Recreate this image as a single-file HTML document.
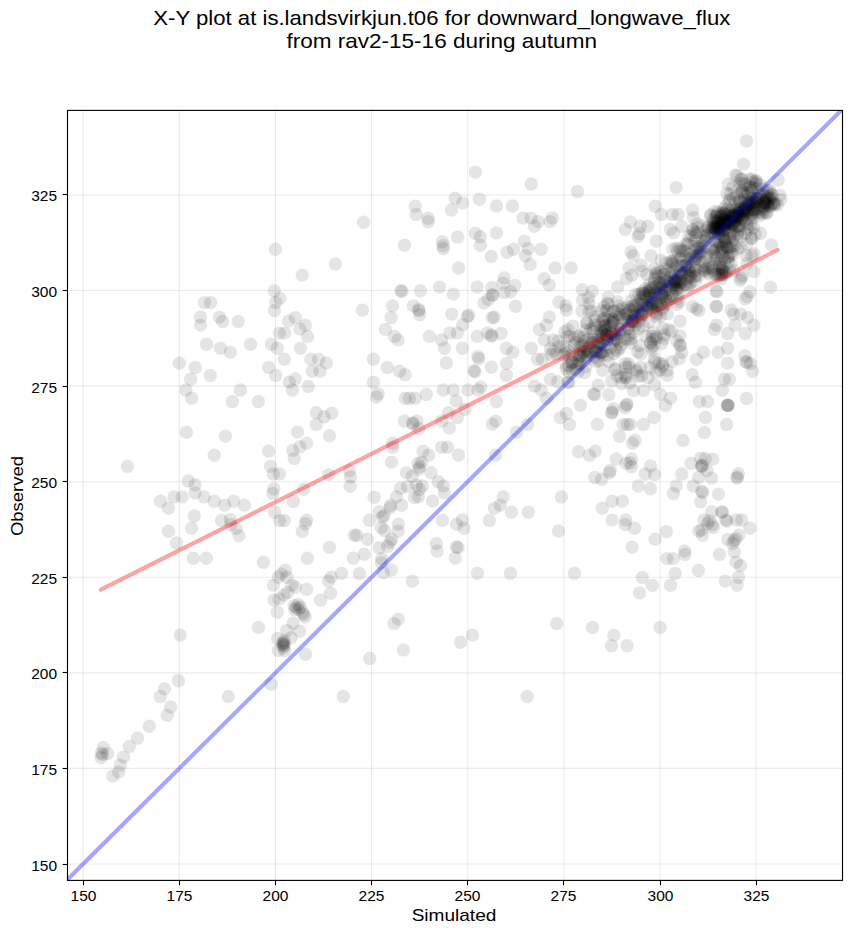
<!DOCTYPE html><html><head><meta charset="utf-8"><title>X-Y plot</title><style>html,body{margin:0;padding:0;background:#fff}svg{display:block}text{font-family:"Liberation Sans",sans-serif;fill:#000}</style></head><body>
<svg width="851" height="934" viewBox="0 0 851 934">
<rect width="851" height="934" fill="#fff"/>
<defs><clipPath id="c"><rect x="67.5" y="110.4" width="775.0" height="770.0"/></clipPath></defs>
<g stroke="#b0b0b0" stroke-opacity="0.25" stroke-width="1.11">
<line x1="83.10" y1="110.4" x2="83.10" y2="880.4"/>
<line x1="67.5" y1="864.00" x2="842.5" y2="864.00"/>
<line x1="179.25" y1="110.4" x2="179.25" y2="880.4"/>
<line x1="67.5" y1="768.42" x2="842.5" y2="768.42"/>
<line x1="275.40" y1="110.4" x2="275.40" y2="880.4"/>
<line x1="67.5" y1="672.85" x2="842.5" y2="672.85"/>
<line x1="371.55" y1="110.4" x2="371.55" y2="880.4"/>
<line x1="67.5" y1="577.27" x2="842.5" y2="577.27"/>
<line x1="467.70" y1="110.4" x2="467.70" y2="880.4"/>
<line x1="67.5" y1="481.70" x2="842.5" y2="481.70"/>
<line x1="563.85" y1="110.4" x2="563.85" y2="880.4"/>
<line x1="67.5" y1="386.12" x2="842.5" y2="386.12"/>
<line x1="660.00" y1="110.4" x2="660.00" y2="880.4"/>
<line x1="67.5" y1="290.55" x2="842.5" y2="290.55"/>
<line x1="756.15" y1="110.4" x2="756.15" y2="880.4"/>
<line x1="67.5" y1="194.98" x2="842.5" y2="194.98"/>
</g>
<g clip-path="url(#c)" fill="#000" fill-opacity="0.1">
<circle cx="204.5" cy="302.6" r="6.7"/>
<circle cx="210.6" cy="302.6" r="6.7"/>
<circle cx="200.5" cy="317.1" r="6.7"/>
<circle cx="200.5" cy="325.1" r="6.7"/>
<circle cx="219.3" cy="317.1" r="6.7"/>
<circle cx="222.5" cy="321.4" r="6.7"/>
<circle cx="238.3" cy="321.4" r="6.7"/>
<circle cx="206.6" cy="344.2" r="6.7"/>
<circle cx="220.4" cy="348.2" r="6.7"/>
<circle cx="230.3" cy="352.2" r="6.7"/>
<circle cx="250.5" cy="344.2" r="6.7"/>
<circle cx="179.3" cy="363.2" r="6.7"/>
<circle cx="195.3" cy="367.4" r="6.7"/>
<circle cx="190.6" cy="379.2" r="6.7"/>
<circle cx="210.3" cy="375.4" r="6.7"/>
<circle cx="185.9" cy="390.0" r="6.7"/>
<circle cx="191.5" cy="398.2" r="6.7"/>
<circle cx="240.4" cy="390.0" r="6.7"/>
<circle cx="232.4" cy="401.5" r="6.7"/>
<circle cx="258.3" cy="401.5" r="6.7"/>
<circle cx="186.4" cy="432.3" r="6.7"/>
<circle cx="225.4" cy="436.3" r="6.7"/>
<circle cx="214.3" cy="455.3" r="6.7"/>
<circle cx="127.4" cy="466.4" r="6.7"/>
<circle cx="274.3" cy="290.8" r="6.7"/>
<circle cx="279.9" cy="298.3" r="6.7"/>
<circle cx="275.7" cy="302.6" r="6.7"/>
<circle cx="274.5" cy="310.6" r="6.7"/>
<circle cx="288.6" cy="321.1" r="6.7"/>
<circle cx="279.4" cy="333.1" r="6.7"/>
<circle cx="284.6" cy="333.1" r="6.7"/>
<circle cx="271.4" cy="344.2" r="6.7"/>
<circle cx="277.3" cy="348.2" r="6.7"/>
<circle cx="284.4" cy="359.2" r="6.7"/>
<circle cx="268.6" cy="367.4" r="6.7"/>
<circle cx="275.7" cy="375.4" r="6.7"/>
<circle cx="289.3" cy="382.2" r="6.7"/>
<circle cx="268.6" cy="451.1" r="6.7"/>
<circle cx="270.5" cy="466.4" r="6.7"/>
<circle cx="273.3" cy="473.9" r="6.7"/>
<circle cx="279.4" cy="473.9" r="6.7"/>
<circle cx="275.4" cy="249.2" r="6.7"/>
<circle cx="188.2" cy="480.9" r="6.7"/>
<circle cx="195.1" cy="484.7" r="6.7"/>
<circle cx="195.1" cy="492.9" r="6.7"/>
<circle cx="160.5" cy="501.2" r="6.7"/>
<circle cx="174.1" cy="496.9" r="6.7"/>
<circle cx="182.1" cy="496.9" r="6.7"/>
<circle cx="168.5" cy="508.2" r="6.7"/>
<circle cx="204.2" cy="496.9" r="6.7"/>
<circle cx="214.3" cy="501.2" r="6.7"/>
<circle cx="224.7" cy="505.1" r="6.7"/>
<circle cx="233.6" cy="501.2" r="6.7"/>
<circle cx="244.4" cy="505.1" r="6.7"/>
<circle cx="194.3" cy="516.0" r="6.7"/>
<circle cx="191.5" cy="528.2" r="6.7"/>
<circle cx="168.5" cy="531.2" r="6.7"/>
<circle cx="176.5" cy="543.0" r="6.7"/>
<circle cx="221.6" cy="520.4" r="6.7"/>
<circle cx="230.3" cy="519.5" r="6.7"/>
<circle cx="231.0" cy="524.7" r="6.7"/>
<circle cx="236.2" cy="528.6" r="6.7"/>
<circle cx="239.0" cy="535.7" r="6.7"/>
<circle cx="193.4" cy="558.3" r="6.7"/>
<circle cx="206.3" cy="558.3" r="6.7"/>
<circle cx="263.4" cy="562.3" r="6.7"/>
<circle cx="180.2" cy="635.1" r="6.7"/>
<circle cx="258.5" cy="627.4" r="6.7"/>
<circle cx="273.7" cy="488.7" r="6.7"/>
<circle cx="272.7" cy="493.4" r="6.7"/>
<circle cx="303.7" cy="489.2" r="6.7"/>
<circle cx="293.4" cy="501.4" r="6.7"/>
<circle cx="274.7" cy="512.2" r="6.7"/>
<circle cx="279.5" cy="520.6" r="6.7"/>
<circle cx="284.4" cy="520.6" r="6.7"/>
<circle cx="306.5" cy="520.2" r="6.7"/>
<circle cx="305.4" cy="523.7" r="6.7"/>
<circle cx="302.3" cy="531.5" r="6.7"/>
<circle cx="350.2" cy="486.3" r="6.7"/>
<circle cx="374.2" cy="497.2" r="6.7"/>
<circle cx="369.4" cy="520.2" r="6.7"/>
<circle cx="354.2" cy="535.3" r="6.7"/>
<circle cx="356.7" cy="535.3" r="6.7"/>
<circle cx="367.5" cy="539.2" r="6.7"/>
<circle cx="329.5" cy="547.4" r="6.7"/>
<circle cx="307.4" cy="558.3" r="6.7"/>
<circle cx="353.3" cy="558.3" r="6.7"/>
<circle cx="364.3" cy="554.3" r="6.7"/>
<circle cx="379.2" cy="547.7" r="6.7"/>
<circle cx="285.4" cy="570.3" r="6.7"/>
<circle cx="281.2" cy="573.9" r="6.7"/>
<circle cx="278.3" cy="577.3" r="6.7"/>
<circle cx="286.8" cy="577.3" r="6.7"/>
<circle cx="273.4" cy="585.1" r="6.7"/>
<circle cx="291.7" cy="585.1" r="6.7"/>
<circle cx="295.3" cy="587.2" r="6.7"/>
<circle cx="306.5" cy="589.3" r="6.7"/>
<circle cx="330.5" cy="593.3" r="6.7"/>
<circle cx="331.2" cy="577.1" r="6.7"/>
<circle cx="328.4" cy="581.0" r="6.7"/>
<circle cx="341.5" cy="573.5" r="6.7"/>
<circle cx="359.4" cy="573.5" r="6.7"/>
<circle cx="274.1" cy="600.3" r="6.7"/>
<circle cx="279.0" cy="598.9" r="6.7"/>
<circle cx="284.0" cy="595.1" r="6.7"/>
<circle cx="287.5" cy="592.6" r="6.7"/>
<circle cx="320.6" cy="600.3" r="6.7"/>
<circle cx="277.3" cy="612.3" r="6.7"/>
<circle cx="293.1" cy="623.3" r="6.7"/>
<circle cx="286.8" cy="630.6" r="6.7"/>
<circle cx="299.5" cy="631.3" r="6.7"/>
<circle cx="277.6" cy="638.4" r="6.7"/>
<circle cx="291.0" cy="637.7" r="6.7"/>
<circle cx="278.3" cy="650.4" r="6.7"/>
<circle cx="284.7" cy="650.7" r="6.7"/>
<circle cx="305.4" cy="654.3" r="6.7"/>
<circle cx="369.7" cy="658.4" r="6.7"/>
<circle cx="271.3" cy="684.2" r="6.7"/>
<circle cx="178.4" cy="680.7" r="6.7"/>
<circle cx="164.5" cy="688.7" r="6.7"/>
<circle cx="160.3" cy="696.5" r="6.7"/>
<circle cx="170.6" cy="707.0" r="6.7"/>
<circle cx="167.3" cy="715.3" r="6.7"/>
<circle cx="149.2" cy="726.3" r="6.7"/>
<circle cx="137.5" cy="738.3" r="6.7"/>
<circle cx="129.2" cy="746.5" r="6.7"/>
<circle cx="123.4" cy="757.1" r="6.7"/>
<circle cx="120.3" cy="765.1" r="6.7"/>
<circle cx="118.7" cy="772.1" r="6.7"/>
<circle cx="113.0" cy="775.9" r="6.7"/>
<circle cx="228.4" cy="696.5" r="6.7"/>
<circle cx="343.3" cy="696.5" r="6.7"/>
<circle cx="592.4" cy="627.5" r="6.7"/>
<circle cx="613.9" cy="635.1" r="6.7"/>
<circle cx="611.4" cy="645.7" r="6.7"/>
<circle cx="627.1" cy="645.7" r="6.7"/>
<circle cx="660.1" cy="627.5" r="6.7"/>
<circle cx="527.2" cy="696.5" r="6.7"/>
<circle cx="442.5" cy="520.4" r="6.7"/>
<circle cx="456.4" cy="524.2" r="6.7"/>
<circle cx="462.3" cy="520.0" r="6.7"/>
<circle cx="464.1" cy="528.2" r="6.7"/>
<circle cx="436.4" cy="543.5" r="6.7"/>
<circle cx="437.1" cy="551.0" r="6.7"/>
<circle cx="456.4" cy="547.0" r="6.7"/>
<circle cx="458.0" cy="547.5" r="6.7"/>
<circle cx="455.2" cy="558.0" r="6.7"/>
<circle cx="477.5" cy="573.3" r="6.7"/>
<circle cx="510.4" cy="573.3" r="6.7"/>
<circle cx="574.4" cy="573.3" r="6.7"/>
<circle cx="412.4" cy="581.1" r="6.7"/>
<circle cx="489.3" cy="520.4" r="6.7"/>
<circle cx="494.5" cy="508.2" r="6.7"/>
<circle cx="500.3" cy="505.1" r="6.7"/>
<circle cx="503.1" cy="496.9" r="6.7"/>
<circle cx="511.4" cy="512.2" r="6.7"/>
<circle cx="528.3" cy="512.2" r="6.7"/>
<circle cx="561.4" cy="496.9" r="6.7"/>
<circle cx="558.6" cy="531.0" r="6.7"/>
<circle cx="556.7" cy="623.4" r="6.7"/>
<circle cx="472.4" cy="635.1" r="6.7"/>
<circle cx="460.6" cy="642.2" r="6.7"/>
<circle cx="398.3" cy="619.1" r="6.7"/>
<circle cx="394.1" cy="623.4" r="6.7"/>
<circle cx="403.5" cy="649.9" r="6.7"/>
<circle cx="391.3" cy="570.0" r="6.7"/>
<circle cx="383.5" cy="572.8" r="6.7"/>
<circle cx="400.6" cy="488.2" r="6.7"/>
<circle cx="407.4" cy="486.5" r="6.7"/>
<circle cx="416.4" cy="485.3" r="6.7"/>
<circle cx="422.3" cy="485.9" r="6.7"/>
<circle cx="419.4" cy="489.4" r="6.7"/>
<circle cx="438.2" cy="481.8" r="6.7"/>
<circle cx="443.4" cy="485.9" r="6.7"/>
<circle cx="444.3" cy="492.9" r="6.7"/>
<circle cx="396.4" cy="496.8" r="6.7"/>
<circle cx="414.4" cy="497.6" r="6.7"/>
<circle cx="418.4" cy="496.8" r="6.7"/>
<circle cx="432.5" cy="501.1" r="6.7"/>
<circle cx="390.6" cy="505.3" r="6.7"/>
<circle cx="390.0" cy="507.8" r="6.7"/>
<circle cx="401.5" cy="505.3" r="6.7"/>
<circle cx="379.4" cy="511.7" r="6.7"/>
<circle cx="384.1" cy="515.6" r="6.7"/>
<circle cx="382.3" cy="517.2" r="6.7"/>
<circle cx="398.4" cy="524.1" r="6.7"/>
<circle cx="398.2" cy="531.1" r="6.7"/>
<circle cx="381.2" cy="527.6" r="6.7"/>
<circle cx="384.7" cy="530.5" r="6.7"/>
<circle cx="391.7" cy="539.3" r="6.7"/>
<circle cx="390.0" cy="542.3" r="6.7"/>
<circle cx="387.6" cy="546.4" r="6.7"/>
<circle cx="381.8" cy="558.7" r="6.7"/>
<circle cx="381.2" cy="562.8" r="6.7"/>
<circle cx="400.9" cy="290.8" r="6.7"/>
<circle cx="402.1" cy="291.3" r="6.7"/>
<circle cx="420.4" cy="290.8" r="6.7"/>
<circle cx="439.5" cy="287.1" r="6.7"/>
<circle cx="453.3" cy="294.1" r="6.7"/>
<circle cx="477.3" cy="287.1" r="6.7"/>
<circle cx="362.4" cy="310.1" r="6.7"/>
<circle cx="392.5" cy="305.9" r="6.7"/>
<circle cx="391.1" cy="317.6" r="6.7"/>
<circle cx="413.4" cy="305.9" r="6.7"/>
<circle cx="418.6" cy="309.4" r="6.7"/>
<circle cx="419.0" cy="310.6" r="6.7"/>
<circle cx="419.7" cy="314.8" r="6.7"/>
<circle cx="451.7" cy="314.1" r="6.7"/>
<circle cx="467.4" cy="316.4" r="6.7"/>
<circle cx="468.6" cy="315.3" r="6.7"/>
<circle cx="462.7" cy="324.7" r="6.7"/>
<circle cx="385.4" cy="329.4" r="6.7"/>
<circle cx="394.6" cy="336.4" r="6.7"/>
<circle cx="398.1" cy="339.9" r="6.7"/>
<circle cx="429.4" cy="336.4" r="6.7"/>
<circle cx="441.6" cy="339.9" r="6.7"/>
<circle cx="449.8" cy="332.9" r="6.7"/>
<circle cx="457.3" cy="332.9" r="6.7"/>
<circle cx="444.4" cy="348.2" r="6.7"/>
<circle cx="462.3" cy="348.2" r="6.7"/>
<circle cx="477.3" cy="336.4" r="6.7"/>
<circle cx="478.0" cy="356.4" r="6.7"/>
<circle cx="478.7" cy="358.7" r="6.7"/>
<circle cx="474.0" cy="370.7" r="6.7"/>
<circle cx="475.0" cy="371.7" r="6.7"/>
<circle cx="446.3" cy="363.0" r="6.7"/>
<circle cx="373.4" cy="359.2" r="6.7"/>
<circle cx="387.3" cy="367.4" r="6.7"/>
<circle cx="399.5" cy="371.2" r="6.7"/>
<circle cx="405.2" cy="374.7" r="6.7"/>
<circle cx="373.4" cy="382.2" r="6.7"/>
<circle cx="378.1" cy="394.0" r="6.7"/>
<circle cx="376.5" cy="397.0" r="6.7"/>
<circle cx="405.2" cy="398.2" r="6.7"/>
<circle cx="409.4" cy="398.2" r="6.7"/>
<circle cx="415.3" cy="398.2" r="6.7"/>
<circle cx="426.3" cy="394.5" r="6.7"/>
<circle cx="443.2" cy="390.0" r="6.7"/>
<circle cx="453.3" cy="390.0" r="6.7"/>
<circle cx="456.4" cy="401.0" r="6.7"/>
<circle cx="467.9" cy="390.0" r="6.7"/>
<circle cx="478.0" cy="390.0" r="6.7"/>
<circle cx="480.8" cy="386.9" r="6.7"/>
<circle cx="465.1" cy="409.3" r="6.7"/>
<circle cx="448.6" cy="412.8" r="6.7"/>
<circle cx="457.3" cy="417.5" r="6.7"/>
<circle cx="441.6" cy="421.0" r="6.7"/>
<circle cx="449.3" cy="428.1" r="6.7"/>
<circle cx="404.5" cy="421.0" r="6.7"/>
<circle cx="412.7" cy="423.8" r="6.7"/>
<circle cx="413.1" cy="422.9" r="6.7"/>
<circle cx="416.9" cy="421.0" r="6.7"/>
<circle cx="418.8" cy="428.5" r="6.7"/>
<circle cx="392.7" cy="443.3" r="6.7"/>
<circle cx="392.7" cy="447.3" r="6.7"/>
<circle cx="391.5" cy="462.1" r="6.7"/>
<circle cx="423.0" cy="451.1" r="6.7"/>
<circle cx="428.7" cy="455.1" r="6.7"/>
<circle cx="441.6" cy="447.3" r="6.7"/>
<circle cx="447.5" cy="447.3" r="6.7"/>
<circle cx="458.5" cy="455.1" r="6.7"/>
<circle cx="418.1" cy="463.3" r="6.7"/>
<circle cx="419.7" cy="466.8" r="6.7"/>
<circle cx="418.8" cy="469.2" r="6.7"/>
<circle cx="421.6" cy="462.1" r="6.7"/>
<circle cx="406.3" cy="472.7" r="6.7"/>
<circle cx="431.0" cy="472.7" r="6.7"/>
<circle cx="412.2" cy="476.2" r="6.7"/>
<circle cx="295.2" cy="317.6" r="6.7"/>
<circle cx="305.3" cy="325.1" r="6.7"/>
<circle cx="299.9" cy="328.9" r="6.7"/>
<circle cx="307.6" cy="336.4" r="6.7"/>
<circle cx="300.6" cy="348.2" r="6.7"/>
<circle cx="310.7" cy="359.2" r="6.7"/>
<circle cx="318.7" cy="359.2" r="6.7"/>
<circle cx="326.4" cy="363.0" r="6.7"/>
<circle cx="312.3" cy="371.2" r="6.7"/>
<circle cx="320.1" cy="371.2" r="6.7"/>
<circle cx="295.2" cy="378.7" r="6.7"/>
<circle cx="308.3" cy="386.5" r="6.7"/>
<circle cx="292.4" cy="390.0" r="6.7"/>
<circle cx="316.3" cy="412.8" r="6.7"/>
<circle cx="324.1" cy="416.8" r="6.7"/>
<circle cx="331.8" cy="413.3" r="6.7"/>
<circle cx="316.3" cy="424.5" r="6.7"/>
<circle cx="297.5" cy="432.1" r="6.7"/>
<circle cx="329.5" cy="435.8" r="6.7"/>
<circle cx="306.5" cy="443.3" r="6.7"/>
<circle cx="299.9" cy="446.9" r="6.7"/>
<circle cx="292.8" cy="450.4" r="6.7"/>
<circle cx="294.2" cy="458.6" r="6.7"/>
<circle cx="328.8" cy="474.6" r="6.7"/>
<circle cx="349.5" cy="470.8" r="6.7"/>
<circle cx="350.6" cy="476.9" r="6.7"/>
<circle cx="492.3" cy="294.7" r="6.7"/>
<circle cx="492.7" cy="295.3" r="6.7"/>
<circle cx="488.2" cy="299.4" r="6.7"/>
<circle cx="484.1" cy="302.9" r="6.7"/>
<circle cx="504.1" cy="292.4" r="6.7"/>
<circle cx="510.8" cy="291.8" r="6.7"/>
<circle cx="515.5" cy="306.2" r="6.7"/>
<circle cx="494.1" cy="317.3" r="6.7"/>
<circle cx="492.3" cy="317.6" r="6.7"/>
<circle cx="549.3" cy="317.0" r="6.7"/>
<circle cx="559.0" cy="302.3" r="6.7"/>
<circle cx="565.8" cy="305.9" r="6.7"/>
<circle cx="566.4" cy="310.0" r="6.7"/>
<circle cx="539.3" cy="329.4" r="6.7"/>
<circle cx="546.4" cy="325.3" r="6.7"/>
<circle cx="500.9" cy="333.2" r="6.7"/>
<circle cx="487.6" cy="332.9" r="6.7"/>
<circle cx="491.2" cy="335.2" r="6.7"/>
<circle cx="491.8" cy="336.1" r="6.7"/>
<circle cx="544.4" cy="339.9" r="6.7"/>
<circle cx="553.4" cy="339.9" r="6.7"/>
<circle cx="558.1" cy="341.1" r="6.7"/>
<circle cx="531.4" cy="348.2" r="6.7"/>
<circle cx="506.4" cy="348.2" r="6.7"/>
<circle cx="512.7" cy="352.3" r="6.7"/>
<circle cx="550.5" cy="348.8" r="6.7"/>
<circle cx="553.4" cy="351.1" r="6.7"/>
<circle cx="551.1" cy="354.6" r="6.7"/>
<circle cx="556.4" cy="354.0" r="6.7"/>
<circle cx="537.6" cy="359.3" r="6.7"/>
<circle cx="542.3" cy="359.3" r="6.7"/>
<circle cx="506.4" cy="363.4" r="6.7"/>
<circle cx="491.4" cy="367.3" r="6.7"/>
<circle cx="506.4" cy="375.2" r="6.7"/>
<circle cx="550.5" cy="379.3" r="6.7"/>
<circle cx="557.6" cy="381.7" r="6.7"/>
<circle cx="496.5" cy="401.4" r="6.7"/>
<circle cx="495.9" cy="421.1" r="6.7"/>
<circle cx="492.3" cy="424.1" r="6.7"/>
<circle cx="495.5" cy="455.2" r="6.7"/>
<circle cx="516.4" cy="432.3" r="6.7"/>
<circle cx="527.6" cy="424.4" r="6.7"/>
<circle cx="534.6" cy="385.9" r="6.7"/>
<circle cx="541.1" cy="390.0" r="6.7"/>
<circle cx="546.4" cy="398.2" r="6.7"/>
<circle cx="560.5" cy="417.6" r="6.7"/>
<circle cx="566.4" cy="413.5" r="6.7"/>
<circle cx="569.5" cy="424.4" r="6.7"/>
<circle cx="578.5" cy="451.7" r="6.7"/>
<circle cx="568.1" cy="382.1" r="6.7"/>
<circle cx="568.7" cy="382.6" r="6.7"/>
<circle cx="598.2" cy="385.3" r="6.7"/>
<circle cx="593.5" cy="393.9" r="6.7"/>
<circle cx="594.7" cy="394.7" r="6.7"/>
<circle cx="608.8" cy="394.7" r="6.7"/>
<circle cx="580.4" cy="405.3" r="6.7"/>
<circle cx="611.7" cy="380.9" r="6.7"/>
<circle cx="621.7" cy="383.5" r="6.7"/>
<circle cx="629.9" cy="382.9" r="6.7"/>
<circle cx="633.5" cy="390.6" r="6.7"/>
<circle cx="643.5" cy="390.6" r="6.7"/>
<circle cx="654.3" cy="384.7" r="6.7"/>
<circle cx="660.5" cy="394.3" r="6.7"/>
<circle cx="670.5" cy="398.2" r="6.7"/>
<circle cx="665.5" cy="405.3" r="6.7"/>
<circle cx="613.3" cy="408.8" r="6.7"/>
<circle cx="612.0" cy="412.0" r="6.7"/>
<circle cx="611.7" cy="412.9" r="6.7"/>
<circle cx="627.0" cy="404.1" r="6.7"/>
<circle cx="625.0" cy="407.6" r="6.7"/>
<circle cx="626.4" cy="405.3" r="6.7"/>
<circle cx="653.8" cy="417.4" r="6.7"/>
<circle cx="597.4" cy="424.4" r="6.7"/>
<circle cx="623.2" cy="424.4" r="6.7"/>
<circle cx="627.2" cy="424.4" r="6.7"/>
<circle cx="630.3" cy="424.4" r="6.7"/>
<circle cx="643.5" cy="424.4" r="6.7"/>
<circle cx="619.4" cy="436.4" r="6.7"/>
<circle cx="634.9" cy="440.2" r="6.7"/>
<circle cx="632.5" cy="443.2" r="6.7"/>
<circle cx="595.3" cy="451.1" r="6.7"/>
<circle cx="589.4" cy="455.2" r="6.7"/>
<circle cx="616.2" cy="459.0" r="6.7"/>
<circle cx="631.7" cy="459.0" r="6.7"/>
<circle cx="626.1" cy="463.2" r="6.7"/>
<circle cx="631.5" cy="466.7" r="6.7"/>
<circle cx="629.9" cy="462.8" r="6.7"/>
<circle cx="650.5" cy="466.0" r="6.7"/>
<circle cx="610.3" cy="470.5" r="6.7"/>
<circle cx="609.4" cy="472.8" r="6.7"/>
<circle cx="645.2" cy="474.0" r="6.7"/>
<circle cx="654.6" cy="474.6" r="6.7"/>
<circle cx="594.7" cy="477.5" r="6.7"/>
<circle cx="601.7" cy="479.3" r="6.7"/>
<circle cx="475.4" cy="172.1" r="6.7"/>
<circle cx="479.4" cy="199.2" r="6.7"/>
<circle cx="455.2" cy="198.2" r="6.7"/>
<circle cx="462.7" cy="202.9" r="6.7"/>
<circle cx="451.5" cy="210.0" r="6.7"/>
<circle cx="415.3" cy="206.2" r="6.7"/>
<circle cx="416.2" cy="214.4" r="6.7"/>
<circle cx="428.2" cy="218.2" r="6.7"/>
<circle cx="428.2" cy="221.7" r="6.7"/>
<circle cx="363.6" cy="222.2" r="6.7"/>
<circle cx="404.5" cy="245.2" r="6.7"/>
<circle cx="457.6" cy="237.0" r="6.7"/>
<circle cx="442.3" cy="241.7" r="6.7"/>
<circle cx="443.2" cy="245.7" r="6.7"/>
<circle cx="443.2" cy="248.7" r="6.7"/>
<circle cx="475.2" cy="233.2" r="6.7"/>
<circle cx="480.4" cy="236.8" r="6.7"/>
<circle cx="480.4" cy="245.2" r="6.7"/>
<circle cx="458.5" cy="268.0" r="6.7"/>
<circle cx="335.4" cy="264.0" r="6.7"/>
<circle cx="302.2" cy="275.1" r="6.7"/>
<circle cx="531.2" cy="184.0" r="6.7"/>
<circle cx="577.5" cy="191.5" r="6.7"/>
<circle cx="496.5" cy="205.9" r="6.7"/>
<circle cx="512.4" cy="205.9" r="6.7"/>
<circle cx="523.0" cy="218.1" r="6.7"/>
<circle cx="531.2" cy="218.1" r="6.7"/>
<circle cx="538.3" cy="221.6" r="6.7"/>
<circle cx="534.5" cy="226.3" r="6.7"/>
<circle cx="552.4" cy="218.1" r="6.7"/>
<circle cx="550.0" cy="221.6" r="6.7"/>
<circle cx="496.5" cy="232.9" r="6.7"/>
<circle cx="524.2" cy="241.1" r="6.7"/>
<circle cx="528.2" cy="248.6" r="6.7"/>
<circle cx="513.6" cy="249.3" r="6.7"/>
<circle cx="507.0" cy="252.2" r="6.7"/>
<circle cx="541.1" cy="249.3" r="6.7"/>
<circle cx="525.4" cy="255.7" r="6.7"/>
<circle cx="491.3" cy="256.4" r="6.7"/>
<circle cx="530.1" cy="264.4" r="6.7"/>
<circle cx="555.2" cy="267.9" r="6.7"/>
<circle cx="571.2" cy="267.9" r="6.7"/>
<circle cx="544.2" cy="278.7" r="6.7"/>
<circle cx="549.3" cy="285.1" r="6.7"/>
<circle cx="504.2" cy="278.0" r="6.7"/>
<circle cx="503.0" cy="283.2" r="6.7"/>
<circle cx="514.8" cy="285.5" r="6.7"/>
<circle cx="491.8" cy="287.4" r="6.7"/>
<circle cx="676.2" cy="187.5" r="6.7"/>
<circle cx="582.2" cy="289.8" r="6.7"/>
<circle cx="655.2" cy="206.2" r="6.7"/>
<circle cx="661.3" cy="214.4" r="6.7"/>
<circle cx="672.3" cy="214.4" r="6.7"/>
<circle cx="678.1" cy="214.4" r="6.7"/>
<circle cx="692.6" cy="210.0" r="6.7"/>
<circle cx="693.4" cy="217.6" r="6.7"/>
<circle cx="630.3" cy="222.0" r="6.7"/>
<circle cx="625.3" cy="229.4" r="6.7"/>
<circle cx="640.3" cy="226.2" r="6.7"/>
<circle cx="647.6" cy="226.2" r="6.7"/>
<circle cx="639.1" cy="233.5" r="6.7"/>
<circle cx="638.2" cy="236.4" r="6.7"/>
<circle cx="670.3" cy="229.4" r="6.7"/>
<circle cx="673.4" cy="232.9" r="6.7"/>
<circle cx="681.7" cy="226.4" r="6.7"/>
<circle cx="656.4" cy="241.1" r="6.7"/>
<circle cx="631.1" cy="252.0" r="6.7"/>
<circle cx="633.3" cy="255.8" r="6.7"/>
<circle cx="651.1" cy="255.8" r="6.7"/>
<circle cx="661.1" cy="260.5" r="6.7"/>
<circle cx="672.9" cy="249.3" r="6.7"/>
<circle cx="677.6" cy="251.1" r="6.7"/>
<circle cx="629.1" cy="268.1" r="6.7"/>
<circle cx="631.7" cy="275.2" r="6.7"/>
<circle cx="626.4" cy="278.7" r="6.7"/>
<circle cx="641.1" cy="265.2" r="6.7"/>
<circle cx="641.7" cy="271.1" r="6.7"/>
<circle cx="647.0" cy="274.6" r="6.7"/>
<circle cx="654.1" cy="268.7" r="6.7"/>
<circle cx="617.6" cy="286.9" r="6.7"/>
<circle cx="649.4" cy="284.0" r="6.7"/>
<circle cx="715.8" cy="290.9" r="6.7"/>
<circle cx="717.0" cy="291.8" r="6.7"/>
<circle cx="747.2" cy="296.5" r="6.7"/>
<circle cx="745.2" cy="298.8" r="6.7"/>
<circle cx="749.9" cy="291.8" r="6.7"/>
<circle cx="716.2" cy="306.2" r="6.7"/>
<circle cx="716.7" cy="306.7" r="6.7"/>
<circle cx="696.5" cy="308.8" r="6.7"/>
<circle cx="698.8" cy="310.6" r="6.7"/>
<circle cx="692.3" cy="306.5" r="6.7"/>
<circle cx="731.1" cy="310.0" r="6.7"/>
<circle cx="733.5" cy="314.1" r="6.7"/>
<circle cx="740.5" cy="314.1" r="6.7"/>
<circle cx="747.6" cy="317.6" r="6.7"/>
<circle cx="753.8" cy="325.3" r="6.7"/>
<circle cx="735.2" cy="325.3" r="6.7"/>
<circle cx="716.4" cy="325.3" r="6.7"/>
<circle cx="714.3" cy="329.4" r="6.7"/>
<circle cx="727.6" cy="333.5" r="6.7"/>
<circle cx="745.2" cy="333.5" r="6.7"/>
<circle cx="680.0" cy="321.1" r="6.7"/>
<circle cx="680.0" cy="335.8" r="6.7"/>
<circle cx="680.0" cy="345.0" r="6.7"/>
<circle cx="680.4" cy="345.8" r="6.7"/>
<circle cx="681.8" cy="352.3" r="6.7"/>
<circle cx="703.5" cy="352.3" r="6.7"/>
<circle cx="696.5" cy="359.3" r="6.7"/>
<circle cx="718.2" cy="352.3" r="6.7"/>
<circle cx="727.6" cy="348.2" r="6.7"/>
<circle cx="727.6" cy="363.1" r="6.7"/>
<circle cx="744.9" cy="355.8" r="6.7"/>
<circle cx="745.8" cy="361.7" r="6.7"/>
<circle cx="747.0" cy="362.3" r="6.7"/>
<circle cx="750.5" cy="363.4" r="6.7"/>
<circle cx="752.5" cy="371.3" r="6.7"/>
<circle cx="692.3" cy="374.8" r="6.7"/>
<circle cx="695.3" cy="382.2" r="6.7"/>
<circle cx="724.4" cy="379.3" r="6.7"/>
<circle cx="729.4" cy="379.3" r="6.7"/>
<circle cx="722.3" cy="390.3" r="6.7"/>
<circle cx="699.4" cy="401.5" r="6.7"/>
<circle cx="707.6" cy="401.5" r="6.7"/>
<circle cx="727.6" cy="405.3" r="6.7"/>
<circle cx="727.7" cy="405.4" r="6.7"/>
<circle cx="727.5" cy="405.1" r="6.7"/>
<circle cx="728.4" cy="405.4" r="6.7"/>
<circle cx="746.6" cy="398.4" r="6.7"/>
<circle cx="705.5" cy="417.4" r="6.7"/>
<circle cx="726.7" cy="424.4" r="6.7"/>
<circle cx="704.4" cy="432.5" r="6.7"/>
<circle cx="682.9" cy="440.5" r="6.7"/>
<circle cx="700.6" cy="458.1" r="6.7"/>
<circle cx="705.3" cy="458.7" r="6.7"/>
<circle cx="712.7" cy="459.3" r="6.7"/>
<circle cx="691.2" cy="463.2" r="6.7"/>
<circle cx="701.5" cy="465.8" r="6.7"/>
<circle cx="702.0" cy="466.7" r="6.7"/>
<circle cx="702.3" cy="465.2" r="6.7"/>
<circle cx="707.0" cy="470.5" r="6.7"/>
<circle cx="738.4" cy="473.8" r="6.7"/>
<circle cx="737.3" cy="476.9" r="6.7"/>
<circle cx="737.0" cy="478.1" r="6.7"/>
<circle cx="681.8" cy="474.0" r="6.7"/>
<circle cx="698.8" cy="477.5" r="6.7"/>
<circle cx="711.5" cy="478.1" r="6.7"/>
<circle cx="638.3" cy="486.0" r="6.7"/>
<circle cx="650.5" cy="488.8" r="6.7"/>
<circle cx="676.4" cy="486.0" r="6.7"/>
<circle cx="673.3" cy="493.5" r="6.7"/>
<circle cx="693.3" cy="486.0" r="6.7"/>
<circle cx="612.2" cy="501.3" r="6.7"/>
<circle cx="622.3" cy="501.3" r="6.7"/>
<circle cx="602.3" cy="508.3" r="6.7"/>
<circle cx="612.2" cy="520.1" r="6.7"/>
<circle cx="625.8" cy="520.1" r="6.7"/>
<circle cx="625.1" cy="524.5" r="6.7"/>
<circle cx="634.5" cy="528.3" r="6.7"/>
<circle cx="632.2" cy="547.1" r="6.7"/>
<circle cx="655.2" cy="539.3" r="6.7"/>
<circle cx="666.3" cy="531.6" r="6.7"/>
<circle cx="667.0" cy="558.6" r="6.7"/>
<circle cx="673.3" cy="558.6" r="6.7"/>
<circle cx="675.2" cy="573.4" r="6.7"/>
<circle cx="670.5" cy="585.2" r="6.7"/>
<circle cx="642.3" cy="577.4" r="6.7"/>
<circle cx="652.4" cy="585.2" r="6.7"/>
<circle cx="639.5" cy="592.9" r="6.7"/>
<circle cx="701.7" cy="491.2" r="6.7"/>
<circle cx="702.6" cy="492.6" r="6.7"/>
<circle cx="700.6" cy="501.8" r="6.7"/>
<circle cx="718.5" cy="494.1" r="6.7"/>
<circle cx="711.7" cy="511.7" r="6.7"/>
<circle cx="721.7" cy="512.3" r="6.7"/>
<circle cx="722.3" cy="511.9" r="6.7"/>
<circle cx="704.1" cy="520.0" r="6.7"/>
<circle cx="709.4" cy="520.6" r="6.7"/>
<circle cx="707.6" cy="523.5" r="6.7"/>
<circle cx="712.3" cy="524.7" r="6.7"/>
<circle cx="713.5" cy="527.6" r="6.7"/>
<circle cx="725.8" cy="520.0" r="6.7"/>
<circle cx="727.0" cy="521.1" r="6.7"/>
<circle cx="736.4" cy="520.0" r="6.7"/>
<circle cx="741.7" cy="520.0" r="6.7"/>
<circle cx="749.9" cy="528.2" r="6.7"/>
<circle cx="698.8" cy="531.1" r="6.7"/>
<circle cx="702.6" cy="535.2" r="6.7"/>
<circle cx="701.7" cy="530.0" r="6.7"/>
<circle cx="738.8" cy="535.2" r="6.7"/>
<circle cx="727.9" cy="539.4" r="6.7"/>
<circle cx="735.8" cy="538.8" r="6.7"/>
<circle cx="732.6" cy="543.5" r="6.7"/>
<circle cx="734.1" cy="540.5" r="6.7"/>
<circle cx="734.3" cy="551.7" r="6.7"/>
<circle cx="719.4" cy="554.4" r="6.7"/>
<circle cx="684.7" cy="551.1" r="6.7"/>
<circle cx="684.9" cy="554.4" r="6.7"/>
<circle cx="736.2" cy="562.3" r="6.7"/>
<circle cx="740.5" cy="565.8" r="6.7"/>
<circle cx="698.4" cy="570.5" r="6.7"/>
<circle cx="738.5" cy="577.2" r="6.7"/>
<circle cx="725.2" cy="581.1" r="6.7"/>
<circle cx="737.0" cy="585.2" r="6.7"/>
<circle cx="296.1" cy="607.6" r="6.7"/>
<circle cx="298.2" cy="604.5" r="6.7"/>
<circle cx="294.8" cy="609.8" r="6.7"/>
<circle cx="298.6" cy="609.2" r="6.7"/>
<circle cx="294.2" cy="605.8" r="6.7"/>
<circle cx="300.3" cy="607.2" r="6.7"/>
<circle cx="304.0" cy="614.7" r="6.7"/>
<circle cx="305.2" cy="617.0" r="6.7"/>
<circle cx="302.5" cy="612.8" r="6.7"/>
<circle cx="283.4" cy="644.0" r="6.7"/>
<circle cx="284.2" cy="642.6" r="6.7"/>
<circle cx="282.6" cy="645.3" r="6.7"/>
<circle cx="284.3" cy="645.4" r="6.7"/>
<circle cx="282.5" cy="642.9" r="6.7"/>
<circle cx="283.6" cy="647.8" r="6.7"/>
<circle cx="283.9" cy="640.5" r="6.7"/>
<circle cx="103.3" cy="747.5" r="6.7"/>
<circle cx="107.5" cy="753.6" r="6.7"/>
<circle cx="101.2" cy="753.1" r="6.7"/>
<circle cx="102.6" cy="754.6" r="6.7"/>
<circle cx="101.2" cy="757.8" r="6.7"/>
<circle cx="559.1" cy="346.7" r="6.7"/>
<circle cx="566.1" cy="368.8" r="6.7"/>
<circle cx="563.2" cy="354.8" r="6.7"/>
<circle cx="566.6" cy="365.9" r="6.7"/>
<circle cx="569.3" cy="372.5" r="6.7"/>
<circle cx="568.7" cy="365.0" r="6.7"/>
<circle cx="565.6" cy="352.9" r="6.7"/>
<circle cx="566.3" cy="349.5" r="6.7"/>
<circle cx="569.0" cy="356.1" r="6.7"/>
<circle cx="571.3" cy="362.4" r="6.7"/>
<circle cx="572.1" cy="362.7" r="6.7"/>
<circle cx="572.6" cy="361.2" r="6.7"/>
<circle cx="575.5" cy="368.9" r="6.7"/>
<circle cx="572.8" cy="354.6" r="6.7"/>
<circle cx="578.3" cy="371.4" r="6.7"/>
<circle cx="577.5" cy="365.1" r="6.7"/>
<circle cx="577.6" cy="360.4" r="6.7"/>
<circle cx="579.3" cy="364.2" r="6.7"/>
<circle cx="579.9" cy="363.5" r="6.7"/>
<circle cx="578.7" cy="354.7" r="6.7"/>
<circle cx="579.5" cy="356.9" r="6.7"/>
<circle cx="580.1" cy="355.9" r="6.7"/>
<circle cx="579.2" cy="347.6" r="6.7"/>
<circle cx="581.7" cy="355.2" r="6.7"/>
<circle cx="585.7" cy="366.8" r="6.7"/>
<circle cx="585.3" cy="360.3" r="6.7"/>
<circle cx="583.7" cy="351.4" r="6.7"/>
<circle cx="583.8" cy="346.8" r="6.7"/>
<circle cx="586.8" cy="355.5" r="6.7"/>
<circle cx="586.7" cy="352.3" r="6.7"/>
<circle cx="586.9" cy="349.4" r="6.7"/>
<circle cx="588.8" cy="354.3" r="6.7"/>
<circle cx="588.7" cy="351.3" r="6.7"/>
<circle cx="588.7" cy="347.4" r="6.7"/>
<circle cx="591.3" cy="351.8" r="6.7"/>
<circle cx="589.3" cy="342.5" r="6.7"/>
<circle cx="594.1" cy="356.6" r="6.7"/>
<circle cx="595.9" cy="361.3" r="6.7"/>
<circle cx="596.9" cy="358.6" r="6.7"/>
<circle cx="595.2" cy="351.1" r="6.7"/>
<circle cx="598.8" cy="361.1" r="6.7"/>
<circle cx="602.8" cy="370.3" r="6.7"/>
<circle cx="597.1" cy="347.0" r="6.7"/>
<circle cx="599.9" cy="353.1" r="6.7"/>
<circle cx="600.4" cy="352.1" r="6.7"/>
<circle cx="601.6" cy="352.8" r="6.7"/>
<circle cx="602.5" cy="355.0" r="6.7"/>
<circle cx="603.0" cy="352.0" r="6.7"/>
<circle cx="594.9" cy="320.6" r="6.7"/>
<circle cx="591.1" cy="310.7" r="6.7"/>
<circle cx="594.8" cy="316.6" r="6.7"/>
<circle cx="606.5" cy="341.0" r="6.7"/>
<circle cx="599.7" cy="325.3" r="6.7"/>
<circle cx="607.2" cy="340.1" r="6.7"/>
<circle cx="607.4" cy="338.5" r="6.7"/>
<circle cx="604.7" cy="332.0" r="6.7"/>
<circle cx="606.8" cy="334.4" r="6.7"/>
<circle cx="605.0" cy="329.9" r="6.7"/>
<circle cx="606.0" cy="330.6" r="6.7"/>
<circle cx="604.7" cy="326.0" r="6.7"/>
<circle cx="602.2" cy="319.5" r="6.7"/>
<circle cx="605.4" cy="325.4" r="6.7"/>
<circle cx="611.0" cy="336.2" r="6.7"/>
<circle cx="613.9" cy="340.5" r="6.7"/>
<circle cx="613.6" cy="339.2" r="6.7"/>
<circle cx="601.3" cy="310.9" r="6.7"/>
<circle cx="611.7" cy="333.0" r="6.7"/>
<circle cx="613.3" cy="334.5" r="6.7"/>
<circle cx="615.9" cy="338.8" r="6.7"/>
<circle cx="610.8" cy="325.9" r="6.7"/>
<circle cx="608.0" cy="319.6" r="6.7"/>
<circle cx="607.6" cy="316.6" r="6.7"/>
<circle cx="621.3" cy="344.8" r="6.7"/>
<circle cx="615.8" cy="331.6" r="6.7"/>
<circle cx="606.3" cy="310.2" r="6.7"/>
<circle cx="612.9" cy="322.4" r="6.7"/>
<circle cx="613.1" cy="322.5" r="6.7"/>
<circle cx="613.2" cy="321.3" r="6.7"/>
<circle cx="612.8" cy="319.3" r="6.7"/>
<circle cx="617.8" cy="328.9" r="6.7"/>
<circle cx="614.3" cy="319.9" r="6.7"/>
<circle cx="608.0" cy="304.1" r="6.7"/>
<circle cx="620.4" cy="329.6" r="6.7"/>
<circle cx="625.0" cy="339.1" r="6.7"/>
<circle cx="621.6" cy="329.7" r="6.7"/>
<circle cx="613.5" cy="311.3" r="6.7"/>
<circle cx="613.9" cy="310.7" r="6.7"/>
<circle cx="608.3" cy="297.3" r="6.7"/>
<circle cx="624.6" cy="331.4" r="6.7"/>
<circle cx="631.2" cy="343.3" r="6.7"/>
<circle cx="619.6" cy="317.7" r="6.7"/>
<circle cx="618.6" cy="314.1" r="6.7"/>
<circle cx="619.8" cy="315.3" r="6.7"/>
<circle cx="629.5" cy="335.5" r="6.7"/>
<circle cx="622.1" cy="318.5" r="6.7"/>
<circle cx="619.0" cy="309.9" r="6.7"/>
<circle cx="628.4" cy="328.4" r="6.7"/>
<circle cx="625.0" cy="319.7" r="6.7"/>
<circle cx="619.1" cy="305.9" r="6.7"/>
<circle cx="617.4" cy="301.7" r="6.7"/>
<circle cx="627.5" cy="321.0" r="6.7"/>
<circle cx="633.6" cy="332.8" r="6.7"/>
<circle cx="622.9" cy="308.4" r="6.7"/>
<circle cx="625.8" cy="313.9" r="6.7"/>
<circle cx="626.7" cy="314.0" r="6.7"/>
<circle cx="625.4" cy="311.0" r="6.7"/>
<circle cx="630.8" cy="321.2" r="6.7"/>
<circle cx="631.8" cy="322.1" r="6.7"/>
<circle cx="632.1" cy="321.2" r="6.7"/>
<circle cx="632.7" cy="321.2" r="6.7"/>
<circle cx="632.7" cy="320.0" r="6.7"/>
<circle cx="634.6" cy="322.2" r="6.7"/>
<circle cx="627.9" cy="307.1" r="6.7"/>
<circle cx="630.0" cy="309.6" r="6.7"/>
<circle cx="632.8" cy="314.9" r="6.7"/>
<circle cx="634.7" cy="317.0" r="6.7"/>
<circle cx="631.7" cy="310.1" r="6.7"/>
<circle cx="634.9" cy="315.2" r="6.7"/>
<circle cx="638.8" cy="321.5" r="6.7"/>
<circle cx="632.0" cy="306.1" r="6.7"/>
<circle cx="637.7" cy="316.6" r="6.7"/>
<circle cx="631.0" cy="301.3" r="6.7"/>
<circle cx="633.9" cy="306.0" r="6.7"/>
<circle cx="635.0" cy="307.8" r="6.7"/>
<circle cx="638.3" cy="312.9" r="6.7"/>
<circle cx="640.6" cy="317.2" r="6.7"/>
<circle cx="635.8" cy="304.7" r="6.7"/>
<circle cx="639.4" cy="310.9" r="6.7"/>
<circle cx="641.1" cy="313.3" r="6.7"/>
<circle cx="642.0" cy="315.0" r="6.7"/>
<circle cx="642.1" cy="313.5" r="6.7"/>
<circle cx="643.4" cy="315.1" r="6.7"/>
<circle cx="638.8" cy="304.1" r="6.7"/>
<circle cx="635.3" cy="294.5" r="6.7"/>
<circle cx="643.1" cy="309.8" r="6.7"/>
<circle cx="649.1" cy="322.0" r="6.7"/>
<circle cx="641.8" cy="304.4" r="6.7"/>
<circle cx="640.2" cy="299.6" r="6.7"/>
<circle cx="643.1" cy="305.5" r="6.7"/>
<circle cx="638.9" cy="294.2" r="6.7"/>
<circle cx="642.9" cy="301.3" r="6.7"/>
<circle cx="644.9" cy="305.3" r="6.7"/>
<circle cx="642.0" cy="297.3" r="6.7"/>
<circle cx="647.8" cy="308.2" r="6.7"/>
<circle cx="647.0" cy="305.3" r="6.7"/>
<circle cx="644.0" cy="296.0" r="6.7"/>
<circle cx="643.3" cy="293.4" r="6.7"/>
<circle cx="651.0" cy="308.2" r="6.7"/>
<circle cx="646.7" cy="297.7" r="6.7"/>
<circle cx="652.9" cy="310.3" r="6.7"/>
<circle cx="651.5" cy="305.6" r="6.7"/>
<circle cx="655.2" cy="312.0" r="6.7"/>
<circle cx="656.7" cy="313.9" r="6.7"/>
<circle cx="653.6" cy="306.7" r="6.7"/>
<circle cx="653.0" cy="304.4" r="6.7"/>
<circle cx="653.3" cy="302.8" r="6.7"/>
<circle cx="648.9" cy="292.6" r="6.7"/>
<circle cx="660.6" cy="316.0" r="6.7"/>
<circle cx="652.9" cy="297.7" r="6.7"/>
<circle cx="653.9" cy="299.2" r="6.7"/>
<circle cx="656.5" cy="303.7" r="6.7"/>
<circle cx="658.2" cy="305.7" r="6.7"/>
<circle cx="584.7" cy="340.9" r="6.7"/>
<circle cx="583.5" cy="337.3" r="6.7"/>
<circle cx="587.4" cy="339.7" r="6.7"/>
<circle cx="596.5" cy="352.2" r="6.7"/>
<circle cx="591.8" cy="343.0" r="6.7"/>
<circle cx="593.4" cy="342.8" r="6.7"/>
<circle cx="585.7" cy="330.1" r="6.7"/>
<circle cx="593.5" cy="339.5" r="6.7"/>
<circle cx="596.9" cy="342.0" r="6.7"/>
<circle cx="598.9" cy="343.7" r="6.7"/>
<circle cx="600.8" cy="344.1" r="6.7"/>
<circle cx="593.5" cy="331.4" r="6.7"/>
<circle cx="604.3" cy="345.3" r="6.7"/>
<circle cx="599.2" cy="336.1" r="6.7"/>
<circle cx="601.5" cy="337.9" r="6.7"/>
<circle cx="603.8" cy="339.0" r="6.7"/>
<circle cx="602.0" cy="334.9" r="6.7"/>
<circle cx="601.3" cy="331.3" r="6.7"/>
<circle cx="602.6" cy="331.9" r="6.7"/>
<circle cx="606.7" cy="335.8" r="6.7"/>
<circle cx="604.1" cy="329.6" r="6.7"/>
<circle cx="603.2" cy="326.8" r="6.7"/>
<circle cx="619.9" cy="348.1" r="6.7"/>
<circle cx="667.1" cy="370.5" r="6.7"/>
<circle cx="640.5" cy="367.2" r="6.7"/>
<circle cx="639.4" cy="345.5" r="6.7"/>
<circle cx="645.9" cy="336.1" r="6.7"/>
<circle cx="628.7" cy="363.9" r="6.7"/>
<circle cx="662.8" cy="328.1" r="6.7"/>
<circle cx="660.0" cy="370.0" r="6.7"/>
<circle cx="638.4" cy="328.4" r="6.7"/>
<circle cx="656.2" cy="338.5" r="6.7"/>
<circle cx="653.3" cy="345.7" r="6.7"/>
<circle cx="652.8" cy="339.2" r="6.7"/>
<circle cx="640.7" cy="353.9" r="6.7"/>
<circle cx="652.3" cy="336.2" r="6.7"/>
<circle cx="677.2" cy="340.9" r="6.7"/>
<circle cx="628.0" cy="339.1" r="6.7"/>
<circle cx="610.1" cy="348.3" r="6.7"/>
<circle cx="662.9" cy="364.0" r="6.7"/>
<circle cx="619.7" cy="332.5" r="6.7"/>
<circle cx="629.1" cy="367.3" r="6.7"/>
<circle cx="641.6" cy="375.8" r="6.7"/>
<circle cx="654.2" cy="359.1" r="6.7"/>
<circle cx="662.6" cy="366.3" r="6.7"/>
<circle cx="630.8" cy="339.1" r="6.7"/>
<circle cx="637.8" cy="351.9" r="6.7"/>
<circle cx="615.6" cy="349.3" r="6.7"/>
<circle cx="653.0" cy="332.5" r="6.7"/>
<circle cx="615.4" cy="334.6" r="6.7"/>
<circle cx="626.2" cy="377.9" r="6.7"/>
<circle cx="606.9" cy="335.1" r="6.7"/>
<circle cx="617.4" cy="351.1" r="6.7"/>
<circle cx="606.1" cy="350.2" r="6.7"/>
<circle cx="617.2" cy="339.8" r="6.7"/>
<circle cx="664.4" cy="335.1" r="6.7"/>
<circle cx="651.3" cy="347.3" r="6.7"/>
<circle cx="636.3" cy="369.9" r="6.7"/>
<circle cx="617.1" cy="375.8" r="6.7"/>
<circle cx="672.0" cy="361.8" r="6.7"/>
<circle cx="608.7" cy="361.5" r="6.7"/>
<circle cx="650.0" cy="367.5" r="6.7"/>
<circle cx="621.0" cy="377.4" r="6.7"/>
<circle cx="671.5" cy="331.3" r="6.7"/>
<circle cx="628.6" cy="326.8" r="6.7"/>
<circle cx="667.3" cy="375.3" r="6.7"/>
<circle cx="679.2" cy="358.7" r="6.7"/>
<circle cx="654.9" cy="362.3" r="6.7"/>
<circle cx="647.8" cy="377.4" r="6.7"/>
<circle cx="650.6" cy="343.5" r="6.7"/>
<circle cx="643.5" cy="326.0" r="6.7"/>
<circle cx="659.3" cy="363.2" r="6.7"/>
<circle cx="636.6" cy="371.8" r="6.7"/>
<circle cx="661.7" cy="343.5" r="6.7"/>
<circle cx="610.8" cy="332.3" r="6.7"/>
<circle cx="618.8" cy="341.7" r="6.7"/>
<circle cx="638.6" cy="376.0" r="6.7"/>
<circle cx="625.9" cy="374.4" r="6.7"/>
<circle cx="656.0" cy="371.9" r="6.7"/>
<circle cx="635.2" cy="325.2" r="6.7"/>
<circle cx="664.0" cy="338.5" r="6.7"/>
<circle cx="615.7" cy="369.0" r="6.7"/>
<circle cx="656.5" cy="336.7" r="6.7"/>
<circle cx="625.1" cy="376.7" r="6.7"/>
<circle cx="625.1" cy="363.6" r="6.7"/>
<circle cx="614.7" cy="369.8" r="6.7"/>
<circle cx="613.8" cy="353.4" r="6.7"/>
<circle cx="607.6" cy="355.3" r="6.7"/>
<circle cx="668.5" cy="329.6" r="6.7"/>
<circle cx="625.6" cy="367.1" r="6.7"/>
<circle cx="650.6" cy="342.2" r="6.7"/>
<circle cx="652.2" cy="350.0" r="6.7"/>
<circle cx="607.6" cy="303.2" r="6.7"/>
<circle cx="604.2" cy="318.6" r="6.7"/>
<circle cx="603.7" cy="307.0" r="6.7"/>
<circle cx="603.2" cy="321.4" r="6.7"/>
<circle cx="592.4" cy="291.2" r="6.7"/>
<circle cx="610.8" cy="322.1" r="6.7"/>
<circle cx="586.6" cy="322.9" r="6.7"/>
<circle cx="588.9" cy="311.1" r="6.7"/>
<circle cx="607.5" cy="310.2" r="6.7"/>
<circle cx="589.2" cy="303.7" r="6.7"/>
<circle cx="582.5" cy="299.9" r="6.7"/>
<circle cx="588.7" cy="297.8" r="6.7"/>
<circle cx="582.0" cy="311.0" r="6.7"/>
<circle cx="586.9" cy="323.2" r="6.7"/>
<circle cx="597.1" cy="340.0" r="6.7"/>
<circle cx="583.7" cy="352.9" r="6.7"/>
<circle cx="564.9" cy="331.9" r="6.7"/>
<circle cx="595.6" cy="351.1" r="6.7"/>
<circle cx="592.6" cy="328.7" r="6.7"/>
<circle cx="584.6" cy="372.6" r="6.7"/>
<circle cx="594.9" cy="325.3" r="6.7"/>
<circle cx="581.8" cy="345.3" r="6.7"/>
<circle cx="590.9" cy="329.0" r="6.7"/>
<circle cx="572.1" cy="369.7" r="6.7"/>
<circle cx="579.8" cy="349.9" r="6.7"/>
<circle cx="598.8" cy="342.6" r="6.7"/>
<circle cx="563.6" cy="346.6" r="6.7"/>
<circle cx="567.8" cy="329.5" r="6.7"/>
<circle cx="574.4" cy="345.8" r="6.7"/>
<circle cx="574.6" cy="338.2" r="6.7"/>
<circle cx="569.5" cy="336.3" r="6.7"/>
<circle cx="578.0" cy="336.7" r="6.7"/>
<circle cx="579.1" cy="335.8" r="6.7"/>
<circle cx="567.0" cy="336.6" r="6.7"/>
<circle cx="572.8" cy="326.1" r="6.7"/>
<circle cx="575.4" cy="342.4" r="6.7"/>
<circle cx="647.8" cy="306.9" r="6.7"/>
<circle cx="656.4" cy="316.7" r="6.7"/>
<circle cx="641.5" cy="293.3" r="6.7"/>
<circle cx="650.3" cy="304.8" r="6.7"/>
<circle cx="642.4" cy="291.9" r="6.7"/>
<circle cx="644.9" cy="293.6" r="6.7"/>
<circle cx="651.6" cy="301.2" r="6.7"/>
<circle cx="657.0" cy="305.3" r="6.7"/>
<circle cx="649.4" cy="293.6" r="6.7"/>
<circle cx="662.5" cy="309.3" r="6.7"/>
<circle cx="660.6" cy="304.6" r="6.7"/>
<circle cx="667.4" cy="313.9" r="6.7"/>
<circle cx="655.5" cy="295.1" r="6.7"/>
<circle cx="655.1" cy="292.8" r="6.7"/>
<circle cx="664.9" cy="303.9" r="6.7"/>
<circle cx="659.1" cy="293.7" r="6.7"/>
<circle cx="666.6" cy="304.2" r="6.7"/>
<circle cx="662.0" cy="295.5" r="6.7"/>
<circle cx="665.6" cy="299.0" r="6.7"/>
<circle cx="665.4" cy="296.5" r="6.7"/>
<circle cx="664.5" cy="292.7" r="6.7"/>
<circle cx="659.5" cy="285.3" r="6.7"/>
<circle cx="670.3" cy="298.8" r="6.7"/>
<circle cx="662.9" cy="286.0" r="6.7"/>
<circle cx="677.1" cy="304.4" r="6.7"/>
<circle cx="672.5" cy="295.8" r="6.7"/>
<circle cx="666.8" cy="286.4" r="6.7"/>
<circle cx="672.5" cy="293.3" r="6.7"/>
<circle cx="677.6" cy="298.4" r="6.7"/>
<circle cx="667.7" cy="281.6" r="6.7"/>
<circle cx="671.6" cy="285.7" r="6.7"/>
<circle cx="670.1" cy="283.0" r="6.7"/>
<circle cx="676.6" cy="289.2" r="6.7"/>
<circle cx="674.1" cy="284.9" r="6.7"/>
<circle cx="677.4" cy="287.0" r="6.7"/>
<circle cx="650.0" cy="296.0" r="6.7"/>
<circle cx="662.3" cy="307.3" r="6.7"/>
<circle cx="645.3" cy="288.9" r="6.7"/>
<circle cx="648.4" cy="291.2" r="6.7"/>
<circle cx="649.7" cy="290.6" r="6.7"/>
<circle cx="654.2" cy="293.9" r="6.7"/>
<circle cx="649.9" cy="287.7" r="6.7"/>
<circle cx="651.9" cy="288.0" r="6.7"/>
<circle cx="661.9" cy="297.2" r="6.7"/>
<circle cx="666.3" cy="301.0" r="6.7"/>
<circle cx="653.5" cy="287.2" r="6.7"/>
<circle cx="661.8" cy="294.1" r="6.7"/>
<circle cx="661.0" cy="292.5" r="6.7"/>
<circle cx="656.7" cy="286.2" r="6.7"/>
<circle cx="667.6" cy="296.9" r="6.7"/>
<circle cx="654.5" cy="282.7" r="6.7"/>
<circle cx="661.1" cy="288.4" r="6.7"/>
<circle cx="661.1" cy="287.6" r="6.7"/>
<circle cx="665.7" cy="290.8" r="6.7"/>
<circle cx="654.3" cy="278.8" r="6.7"/>
<circle cx="658.8" cy="282.5" r="6.7"/>
<circle cx="660.9" cy="283.5" r="6.7"/>
<circle cx="679.3" cy="301.5" r="6.7"/>
<circle cx="662.6" cy="283.9" r="6.7"/>
<circle cx="655.8" cy="275.6" r="6.7"/>
<circle cx="670.6" cy="289.5" r="6.7"/>
<circle cx="658.3" cy="276.7" r="6.7"/>
<circle cx="655.8" cy="273.0" r="6.7"/>
<circle cx="665.0" cy="281.9" r="6.7"/>
<circle cx="657.6" cy="273.2" r="6.7"/>
<circle cx="678.2" cy="292.9" r="6.7"/>
<circle cx="666.9" cy="280.9" r="6.7"/>
<circle cx="674.2" cy="287.3" r="6.7"/>
<circle cx="676.9" cy="288.9" r="6.7"/>
<circle cx="660.7" cy="271.7" r="6.7"/>
<circle cx="663.7" cy="274.3" r="6.7"/>
<circle cx="664.9" cy="274.0" r="6.7"/>
<circle cx="674.1" cy="281.3" r="6.7"/>
<circle cx="680.5" cy="287.6" r="6.7"/>
<circle cx="675.5" cy="281.5" r="6.7"/>
<circle cx="677.4" cy="282.6" r="6.7"/>
<circle cx="670.8" cy="274.3" r="6.7"/>
<circle cx="665.7" cy="269.0" r="6.7"/>
<circle cx="668.2" cy="270.3" r="6.7"/>
<circle cx="681.0" cy="282.0" r="6.7"/>
<circle cx="672.8" cy="272.8" r="6.7"/>
<circle cx="675.8" cy="274.5" r="6.7"/>
<circle cx="686.6" cy="284.4" r="6.7"/>
<circle cx="666.2" cy="262.9" r="6.7"/>
<circle cx="689.4" cy="284.8" r="6.7"/>
<circle cx="681.7" cy="275.5" r="6.7"/>
<circle cx="672.3" cy="264.2" r="6.7"/>
<circle cx="670.6" cy="261.5" r="6.7"/>
<circle cx="672.9" cy="262.8" r="6.7"/>
<circle cx="672.2" cy="261.4" r="6.7"/>
<circle cx="677.4" cy="265.9" r="6.7"/>
<circle cx="686.0" cy="272.8" r="6.7"/>
<circle cx="674.8" cy="261.0" r="6.7"/>
<circle cx="695.4" cy="281.1" r="6.7"/>
<circle cx="681.8" cy="266.1" r="6.7"/>
<circle cx="677.4" cy="261.4" r="6.7"/>
<circle cx="690.2" cy="273.2" r="6.7"/>
<circle cx="684.9" cy="266.3" r="6.7"/>
<circle cx="685.4" cy="265.3" r="6.7"/>
<circle cx="687.5" cy="267.0" r="6.7"/>
<circle cx="680.8" cy="258.5" r="6.7"/>
<circle cx="691.0" cy="267.1" r="6.7"/>
<circle cx="682.2" cy="255.4" r="6.7"/>
<circle cx="676.2" cy="248.4" r="6.7"/>
<circle cx="685.7" cy="256.5" r="6.7"/>
<circle cx="688.5" cy="258.9" r="6.7"/>
<circle cx="681.2" cy="250.7" r="6.7"/>
<circle cx="679.8" cy="248.5" r="6.7"/>
<circle cx="691.0" cy="258.3" r="6.7"/>
<circle cx="683.7" cy="250.2" r="6.7"/>
<circle cx="685.7" cy="251.4" r="6.7"/>
<circle cx="689.5" cy="254.2" r="6.7"/>
<circle cx="694.8" cy="259.2" r="6.7"/>
<circle cx="695.7" cy="259.1" r="6.7"/>
<circle cx="693.9" cy="256.1" r="6.7"/>
<circle cx="695.7" cy="256.7" r="6.7"/>
<circle cx="699.2" cy="259.4" r="6.7"/>
<circle cx="708.0" cy="267.6" r="6.7"/>
<circle cx="697.0" cy="255.7" r="6.7"/>
<circle cx="685.9" cy="244.1" r="6.7"/>
<circle cx="688.2" cy="244.7" r="6.7"/>
<circle cx="687.6" cy="243.0" r="6.7"/>
<circle cx="699.6" cy="253.7" r="6.7"/>
<circle cx="699.0" cy="252.1" r="6.7"/>
<circle cx="694.5" cy="246.7" r="6.7"/>
<circle cx="696.5" cy="248.1" r="6.7"/>
<circle cx="706.6" cy="257.6" r="6.7"/>
<circle cx="701.3" cy="251.5" r="6.7"/>
<circle cx="698.3" cy="246.8" r="6.7"/>
<circle cx="700.7" cy="248.3" r="6.7"/>
<circle cx="689.1" cy="236.3" r="6.7"/>
<circle cx="694.8" cy="240.7" r="6.7"/>
<circle cx="700.8" cy="246.2" r="6.7"/>
<circle cx="710.9" cy="255.6" r="6.7"/>
<circle cx="691.8" cy="235.3" r="6.7"/>
<circle cx="705.1" cy="247.0" r="6.7"/>
<circle cx="695.7" cy="235.4" r="6.7"/>
<circle cx="701.7" cy="240.8" r="6.7"/>
<circle cx="694.3" cy="232.2" r="6.7"/>
<circle cx="693.2" cy="230.1" r="6.7"/>
<circle cx="692.9" cy="229.4" r="6.7"/>
<circle cx="697.1" cy="232.8" r="6.7"/>
<circle cx="705.8" cy="240.1" r="6.7"/>
<circle cx="713.7" cy="247.5" r="6.7"/>
<circle cx="704.8" cy="238.0" r="6.7"/>
<circle cx="704.9" cy="235.5" r="6.7"/>
<circle cx="697.8" cy="227.9" r="6.7"/>
<circle cx="707.2" cy="236.9" r="6.7"/>
<circle cx="706.8" cy="235.2" r="6.7"/>
<circle cx="717.4" cy="245.0" r="6.7"/>
<circle cx="697.1" cy="223.8" r="6.7"/>
<circle cx="715.0" cy="240.4" r="6.7"/>
<circle cx="706.2" cy="230.5" r="6.7"/>
<circle cx="702.5" cy="225.8" r="6.7"/>
<circle cx="730.8" cy="253.3" r="6.7"/>
<circle cx="718.2" cy="241.7" r="6.7"/>
<circle cx="710.8" cy="232.8" r="6.7"/>
<circle cx="713.2" cy="233.6" r="6.7"/>
<circle cx="707.7" cy="227.0" r="6.7"/>
<circle cx="708.5" cy="227.4" r="6.7"/>
<circle cx="718.5" cy="235.9" r="6.7"/>
<circle cx="712.1" cy="228.3" r="6.7"/>
<circle cx="719.5" cy="233.9" r="6.7"/>
<circle cx="714.3" cy="228.6" r="6.7"/>
<circle cx="716.7" cy="229.3" r="6.7"/>
<circle cx="716.4" cy="227.2" r="6.7"/>
<circle cx="720.0" cy="230.3" r="6.7"/>
<circle cx="718.6" cy="227.8" r="6.7"/>
<circle cx="718.7" cy="226.4" r="6.7"/>
<circle cx="714.1" cy="220.8" r="6.7"/>
<circle cx="729.2" cy="234.1" r="6.7"/>
<circle cx="711.2" cy="215.8" r="6.7"/>
<circle cx="717.6" cy="220.9" r="6.7"/>
<circle cx="721.0" cy="223.2" r="6.7"/>
<circle cx="716.0" cy="216.2" r="6.7"/>
<circle cx="716.5" cy="216.1" r="6.7"/>
<circle cx="724.9" cy="222.6" r="6.7"/>
<circle cx="714.9" cy="211.4" r="6.7"/>
<circle cx="720.5" cy="215.7" r="6.7"/>
<circle cx="717.6" cy="212.4" r="6.7"/>
<circle cx="726.4" cy="220.3" r="6.7"/>
<circle cx="726.3" cy="218.6" r="6.7"/>
<circle cx="723.1" cy="213.5" r="6.7"/>
<circle cx="725.2" cy="214.7" r="6.7"/>
<circle cx="725.1" cy="214.1" r="6.7"/>
<circle cx="725.2" cy="212.3" r="6.7"/>
<circle cx="723.8" cy="209.5" r="6.7"/>
<circle cx="728.7" cy="213.1" r="6.7"/>
<circle cx="736.5" cy="220.1" r="6.7"/>
<circle cx="734.0" cy="216.1" r="6.7"/>
<circle cx="733.4" cy="214.4" r="6.7"/>
<circle cx="725.7" cy="206.0" r="6.7"/>
<circle cx="731.1" cy="210.5" r="6.7"/>
<circle cx="735.4" cy="212.9" r="6.7"/>
<circle cx="741.9" cy="219.0" r="6.7"/>
<circle cx="740.1" cy="215.7" r="6.7"/>
<circle cx="739.8" cy="213.4" r="6.7"/>
<circle cx="728.9" cy="201.8" r="6.7"/>
<circle cx="737.1" cy="208.9" r="6.7"/>
<circle cx="729.7" cy="199.7" r="6.7"/>
<circle cx="739.5" cy="209.2" r="6.7"/>
<circle cx="735.2" cy="202.8" r="6.7"/>
<circle cx="727.1" cy="193.5" r="6.7"/>
<circle cx="741.4" cy="207.4" r="6.7"/>
<circle cx="733.3" cy="198.1" r="6.7"/>
<circle cx="730.5" cy="194.3" r="6.7"/>
<circle cx="739.7" cy="201.4" r="6.7"/>
<circle cx="740.7" cy="202.1" r="6.7"/>
<circle cx="739.3" cy="199.7" r="6.7"/>
<circle cx="745.7" cy="203.9" r="6.7"/>
<circle cx="748.5" cy="205.8" r="6.7"/>
<circle cx="728.4" cy="184.3" r="6.7"/>
<circle cx="750.3" cy="205.1" r="6.7"/>
<circle cx="748.9" cy="203.4" r="6.7"/>
<circle cx="748.2" cy="201.3" r="6.7"/>
<circle cx="741.2" cy="192.6" r="6.7"/>
<circle cx="744.7" cy="195.5" r="6.7"/>
<circle cx="743.3" cy="192.3" r="6.7"/>
<circle cx="751.9" cy="199.5" r="6.7"/>
<circle cx="752.2" cy="198.7" r="6.7"/>
<circle cx="748.6" cy="193.9" r="6.7"/>
<circle cx="760.9" cy="205.8" r="6.7"/>
<circle cx="739.9" cy="183.2" r="6.7"/>
<circle cx="757.8" cy="199.3" r="6.7"/>
<circle cx="751.1" cy="192.2" r="6.7"/>
<circle cx="744.2" cy="183.6" r="6.7"/>
<circle cx="751.4" cy="190.2" r="6.7"/>
<circle cx="766.1" cy="202.8" r="6.7"/>
<circle cx="750.9" cy="187.2" r="6.7"/>
<circle cx="753.0" cy="187.8" r="6.7"/>
<circle cx="759.7" cy="193.1" r="6.7"/>
<circle cx="756.8" cy="188.8" r="6.7"/>
<circle cx="764.2" cy="194.8" r="6.7"/>
<circle cx="749.7" cy="179.3" r="6.7"/>
<circle cx="752.9" cy="181.7" r="6.7"/>
<circle cx="755.9" cy="183.8" r="6.7"/>
<circle cx="762.9" cy="189.0" r="6.7"/>
<circle cx="760.1" cy="184.6" r="6.7"/>
<circle cx="756.4" cy="180.8" r="6.7"/>
<circle cx="768.0" cy="190.4" r="6.7"/>
<circle cx="715.4" cy="231.4" r="6.7"/>
<circle cx="713.7" cy="226.7" r="6.7"/>
<circle cx="715.1" cy="228.6" r="6.7"/>
<circle cx="715.2" cy="228.3" r="6.7"/>
<circle cx="715.7" cy="227.9" r="6.7"/>
<circle cx="713.9" cy="223.2" r="6.7"/>
<circle cx="710.4" cy="214.9" r="6.7"/>
<circle cx="716.0" cy="225.9" r="6.7"/>
<circle cx="715.1" cy="223.1" r="6.7"/>
<circle cx="717.6" cy="227.0" r="6.7"/>
<circle cx="717.5" cy="225.8" r="6.7"/>
<circle cx="719.7" cy="229.5" r="6.7"/>
<circle cx="724.0" cy="236.9" r="6.7"/>
<circle cx="719.9" cy="227.5" r="6.7"/>
<circle cx="718.1" cy="222.6" r="6.7"/>
<circle cx="718.4" cy="222.0" r="6.7"/>
<circle cx="722.4" cy="230.2" r="6.7"/>
<circle cx="720.3" cy="224.4" r="6.7"/>
<circle cx="720.3" cy="223.9" r="6.7"/>
<circle cx="724.0" cy="230.4" r="6.7"/>
<circle cx="717.3" cy="214.6" r="6.7"/>
<circle cx="724.2" cy="229.0" r="6.7"/>
<circle cx="722.0" cy="222.8" r="6.7"/>
<circle cx="725.6" cy="229.1" r="6.7"/>
<circle cx="720.4" cy="217.5" r="6.7"/>
<circle cx="724.4" cy="224.5" r="6.7"/>
<circle cx="722.9" cy="220.8" r="6.7"/>
<circle cx="725.4" cy="225.1" r="6.7"/>
<circle cx="721.7" cy="216.2" r="6.7"/>
<circle cx="725.7" cy="223.9" r="6.7"/>
<circle cx="722.8" cy="216.7" r="6.7"/>
<circle cx="725.4" cy="221.0" r="6.7"/>
<circle cx="727.6" cy="224.0" r="6.7"/>
<circle cx="722.4" cy="212.6" r="6.7"/>
<circle cx="726.8" cy="221.0" r="6.7"/>
<circle cx="728.7" cy="223.2" r="6.7"/>
<circle cx="730.3" cy="226.5" r="6.7"/>
<circle cx="728.8" cy="221.3" r="6.7"/>
<circle cx="729.3" cy="221.7" r="6.7"/>
<circle cx="729.4" cy="221.1" r="6.7"/>
<circle cx="731.3" cy="224.1" r="6.7"/>
<circle cx="731.2" cy="223.2" r="6.7"/>
<circle cx="732.4" cy="224.8" r="6.7"/>
<circle cx="728.7" cy="216.1" r="6.7"/>
<circle cx="730.9" cy="219.2" r="6.7"/>
<circle cx="729.3" cy="214.8" r="6.7"/>
<circle cx="733.9" cy="223.1" r="6.7"/>
<circle cx="727.6" cy="209.2" r="6.7"/>
<circle cx="736.4" cy="226.2" r="6.7"/>
<circle cx="731.9" cy="215.8" r="6.7"/>
<circle cx="734.5" cy="220.9" r="6.7"/>
<circle cx="735.2" cy="221.1" r="6.7"/>
<circle cx="733.3" cy="216.4" r="6.7"/>
<circle cx="738.9" cy="227.2" r="6.7"/>
<circle cx="734.1" cy="215.2" r="6.7"/>
<circle cx="734.6" cy="215.9" r="6.7"/>
<circle cx="735.8" cy="217.5" r="6.7"/>
<circle cx="736.9" cy="218.8" r="6.7"/>
<circle cx="736.0" cy="215.5" r="6.7"/>
<circle cx="736.8" cy="216.3" r="6.7"/>
<circle cx="736.7" cy="215.4" r="6.7"/>
<circle cx="738.3" cy="217.1" r="6.7"/>
<circle cx="735.4" cy="210.5" r="6.7"/>
<circle cx="737.9" cy="214.3" r="6.7"/>
<circle cx="737.5" cy="212.6" r="6.7"/>
<circle cx="740.9" cy="218.7" r="6.7"/>
<circle cx="739.8" cy="215.5" r="6.7"/>
<circle cx="739.2" cy="212.9" r="6.7"/>
<circle cx="739.1" cy="211.4" r="6.7"/>
<circle cx="742.4" cy="217.5" r="6.7"/>
<circle cx="741.9" cy="216.1" r="6.7"/>
<circle cx="744.8" cy="220.9" r="6.7"/>
<circle cx="739.2" cy="208.3" r="6.7"/>
<circle cx="747.1" cy="224.0" r="6.7"/>
<circle cx="742.0" cy="212.1" r="6.7"/>
<circle cx="743.5" cy="214.3" r="6.7"/>
<circle cx="744.7" cy="215.1" r="6.7"/>
<circle cx="743.6" cy="212.0" r="6.7"/>
<circle cx="743.4" cy="210.3" r="6.7"/>
<circle cx="743.9" cy="210.5" r="6.7"/>
<circle cx="748.1" cy="218.7" r="6.7"/>
<circle cx="744.5" cy="210.0" r="6.7"/>
<circle cx="744.1" cy="208.2" r="6.7"/>
<circle cx="744.3" cy="207.7" r="6.7"/>
<circle cx="747.2" cy="212.7" r="6.7"/>
<circle cx="746.9" cy="210.6" r="6.7"/>
<circle cx="746.0" cy="208.5" r="6.7"/>
<circle cx="746.1" cy="207.5" r="6.7"/>
<circle cx="748.5" cy="211.2" r="6.7"/>
<circle cx="748.5" cy="210.1" r="6.7"/>
<circle cx="751.3" cy="215.0" r="6.7"/>
<circle cx="744.6" cy="199.7" r="6.7"/>
<circle cx="753.2" cy="217.5" r="6.7"/>
<circle cx="752.3" cy="214.4" r="6.7"/>
<circle cx="747.9" cy="204.0" r="6.7"/>
<circle cx="752.2" cy="212.1" r="6.7"/>
<circle cx="752.0" cy="210.1" r="6.7"/>
<circle cx="749.1" cy="202.8" r="6.7"/>
<circle cx="754.2" cy="212.9" r="6.7"/>
<circle cx="750.2" cy="204.1" r="6.7"/>
<circle cx="753.4" cy="209.4" r="6.7"/>
<circle cx="754.7" cy="210.6" r="6.7"/>
<circle cx="754.4" cy="208.8" r="6.7"/>
<circle cx="752.6" cy="204.4" r="6.7"/>
<circle cx="752.0" cy="202.4" r="6.7"/>
<circle cx="751.9" cy="201.2" r="6.7"/>
<circle cx="759.4" cy="215.7" r="6.7"/>
<circle cx="756.8" cy="208.9" r="6.7"/>
<circle cx="755.7" cy="206.1" r="6.7"/>
<circle cx="759.1" cy="212.5" r="6.7"/>
<circle cx="755.1" cy="203.1" r="6.7"/>
<circle cx="754.9" cy="201.6" r="6.7"/>
<circle cx="756.1" cy="202.2" r="6.7"/>
<circle cx="756.8" cy="202.9" r="6.7"/>
<circle cx="756.8" cy="201.5" r="6.7"/>
<circle cx="762.5" cy="213.5" r="6.7"/>
<circle cx="756.0" cy="198.6" r="6.7"/>
<circle cx="761.4" cy="208.4" r="6.7"/>
<circle cx="756.9" cy="198.1" r="6.7"/>
<circle cx="757.2" cy="198.4" r="6.7"/>
<circle cx="763.3" cy="209.7" r="6.7"/>
<circle cx="764.8" cy="211.7" r="6.7"/>
<circle cx="766.2" cy="213.5" r="6.7"/>
<circle cx="763.6" cy="207.3" r="6.7"/>
<circle cx="763.6" cy="206.5" r="6.7"/>
<circle cx="767.3" cy="212.4" r="6.7"/>
<circle cx="759.9" cy="196.4" r="6.7"/>
<circle cx="764.1" cy="203.9" r="6.7"/>
<circle cx="763.5" cy="201.9" r="6.7"/>
<circle cx="763.0" cy="200.2" r="6.7"/>
<circle cx="764.3" cy="201.9" r="6.7"/>
<circle cx="765.0" cy="202.5" r="6.7"/>
<circle cx="765.6" cy="202.5" r="6.7"/>
<circle cx="767.1" cy="204.6" r="6.7"/>
<circle cx="765.3" cy="199.6" r="6.7"/>
<circle cx="768.7" cy="205.9" r="6.7"/>
<circle cx="768.0" cy="203.4" r="6.7"/>
<circle cx="770.2" cy="206.5" r="6.7"/>
<circle cx="768.1" cy="201.8" r="6.7"/>
<circle cx="767.2" cy="198.8" r="6.7"/>
<circle cx="766.9" cy="196.4" r="6.7"/>
<circle cx="771.1" cy="204.6" r="6.7"/>
<circle cx="768.8" cy="198.9" r="6.7"/>
<circle cx="767.9" cy="196.1" r="6.7"/>
<circle cx="769.8" cy="198.7" r="6.7"/>
<circle cx="767.1" cy="192.4" r="6.7"/>
<circle cx="773.2" cy="203.5" r="6.7"/>
<circle cx="774.3" cy="204.9" r="6.7"/>
<circle cx="773.6" cy="202.9" r="6.7"/>
<circle cx="771.6" cy="197.9" r="6.7"/>
<circle cx="775.3" cy="203.8" r="6.7"/>
<circle cx="771.0" cy="194.3" r="6.7"/>
<circle cx="769.9" cy="190.7" r="6.7"/>
<circle cx="772.6" cy="195.1" r="6.7"/>
<circle cx="777.6" cy="204.7" r="6.7"/>
<circle cx="713.0" cy="227.7" r="6.7"/>
<circle cx="717.6" cy="232.7" r="6.7"/>
<circle cx="718.0" cy="231.4" r="6.7"/>
<circle cx="713.0" cy="219.3" r="6.7"/>
<circle cx="718.8" cy="228.6" r="6.7"/>
<circle cx="716.5" cy="221.3" r="6.7"/>
<circle cx="721.4" cy="227.9" r="6.7"/>
<circle cx="724.3" cy="230.6" r="6.7"/>
<circle cx="723.1" cy="225.0" r="6.7"/>
<circle cx="723.9" cy="223.0" r="6.7"/>
<circle cx="723.5" cy="219.5" r="6.7"/>
<circle cx="724.1" cy="219.8" r="6.7"/>
<circle cx="728.2" cy="221.7" r="6.7"/>
<circle cx="729.7" cy="223.6" r="6.7"/>
<circle cx="737.4" cy="234.0" r="6.7"/>
<circle cx="734.1" cy="224.2" r="6.7"/>
<circle cx="732.0" cy="217.7" r="6.7"/>
<circle cx="738.1" cy="226.1" r="6.7"/>
<circle cx="730.6" cy="234.7" r="6.7"/>
<circle cx="734.0" cy="236.1" r="6.7"/>
<circle cx="732.5" cy="232.1" r="6.7"/>
<circle cx="737.5" cy="235.2" r="6.7"/>
<circle cx="735.1" cy="226.9" r="6.7"/>
<circle cx="741.5" cy="236.3" r="6.7"/>
<circle cx="740.1" cy="229.9" r="6.7"/>
<circle cx="739.9" cy="226.1" r="6.7"/>
<circle cx="745.6" cy="233.4" r="6.7"/>
<circle cx="751.2" cy="238.6" r="6.7"/>
<circle cx="748.2" cy="229.4" r="6.7"/>
<circle cx="748.4" cy="226.8" r="6.7"/>
<circle cx="750.8" cy="224.8" r="6.7"/>
<circle cx="753.7" cy="227.4" r="6.7"/>
<circle cx="674.5" cy="285.0" r="6.7"/>
<circle cx="670.2" cy="277.1" r="6.7"/>
<circle cx="674.7" cy="282.4" r="6.7"/>
<circle cx="674.7" cy="281.0" r="6.7"/>
<circle cx="678.6" cy="285.1" r="6.7"/>
<circle cx="676.5" cy="280.1" r="6.7"/>
<circle cx="678.6" cy="281.0" r="6.7"/>
<circle cx="680.8" cy="282.8" r="6.7"/>
<circle cx="679.7" cy="279.5" r="6.7"/>
<circle cx="684.2" cy="284.4" r="6.7"/>
<circle cx="678.5" cy="275.4" r="6.7"/>
<circle cx="687.5" cy="286.5" r="6.7"/>
<circle cx="679.9" cy="273.5" r="6.7"/>
<circle cx="680.2" cy="271.7" r="6.7"/>
<circle cx="682.4" cy="274.3" r="6.7"/>
<circle cx="686.9" cy="279.2" r="6.7"/>
<circle cx="684.0" cy="272.3" r="6.7"/>
<circle cx="691.0" cy="282.7" r="6.7"/>
<circle cx="688.5" cy="276.7" r="6.7"/>
<circle cx="690.6" cy="278.0" r="6.7"/>
<circle cx="690.7" cy="275.8" r="6.7"/>
<circle cx="688.0" cy="270.8" r="6.7"/>
<circle cx="689.5" cy="270.5" r="6.7"/>
<circle cx="686.1" cy="264.6" r="6.7"/>
<circle cx="695.1" cy="276.6" r="6.7"/>
<circle cx="693.4" cy="271.9" r="6.7"/>
<circle cx="696.5" cy="274.7" r="6.7"/>
<circle cx="698.7" cy="276.0" r="6.7"/>
<circle cx="696.1" cy="270.3" r="6.7"/>
<circle cx="695.4" cy="268.5" r="6.7"/>
<circle cx="715.4" cy="274.4" r="6.7"/>
<circle cx="721.9" cy="272.6" r="6.7"/>
<circle cx="705.6" cy="268.1" r="6.7"/>
<circle cx="722.1" cy="269.9" r="6.7"/>
<circle cx="719.6" cy="266.6" r="6.7"/>
<circle cx="716.6" cy="263.4" r="6.7"/>
<circle cx="715.2" cy="260.9" r="6.7"/>
<circle cx="730.6" cy="263.7" r="6.7"/>
<circle cx="716.8" cy="258.3" r="6.7"/>
<circle cx="728.4" cy="258.0" r="6.7"/>
<circle cx="727.6" cy="257.2" r="6.7"/>
<circle cx="713.3" cy="251.5" r="6.7"/>
<circle cx="716.0" cy="249.8" r="6.7"/>
<circle cx="722.6" cy="248.9" r="6.7"/>
<circle cx="726.6" cy="247.0" r="6.7"/>
<circle cx="726.1" cy="245.2" r="6.7"/>
<circle cx="733.0" cy="245.3" r="6.7"/>
<circle cx="725.8" cy="241.5" r="6.7"/>
<circle cx="723.5" cy="238.4" r="6.7"/>
<circle cx="729.7" cy="238.1" r="6.7"/>
<circle cx="693.9" cy="261.6" r="6.7"/>
<circle cx="704.0" cy="271.0" r="6.7"/>
<circle cx="703.9" cy="269.8" r="6.7"/>
<circle cx="709.6" cy="274.3" r="6.7"/>
<circle cx="708.5" cy="271.9" r="6.7"/>
<circle cx="704.2" cy="265.9" r="6.7"/>
<circle cx="708.9" cy="268.5" r="6.7"/>
<circle cx="702.9" cy="262.3" r="6.7"/>
<circle cx="712.7" cy="269.7" r="6.7"/>
<circle cx="718.3" cy="274.1" r="6.7"/>
<circle cx="711.9" cy="267.2" r="6.7"/>
<circle cx="721.4" cy="275.2" r="6.7"/>
<circle cx="721.7" cy="273.2" r="6.7"/>
<circle cx="724.4" cy="274.6" r="6.7"/>
<circle cx="698.9" cy="248.2" r="6.7"/>
<circle cx="707.1" cy="254.3" r="6.7"/>
<circle cx="721.1" cy="267.8" r="6.7"/>
<circle cx="723.0" cy="268.0" r="6.7"/>
<circle cx="719.5" cy="263.6" r="6.7"/>
<circle cx="714.8" cy="256.7" r="6.7"/>
<circle cx="729.9" cy="271.2" r="6.7"/>
<circle cx="721.0" cy="260.8" r="6.7"/>
<circle cx="711.3" cy="248.9" r="6.7"/>
<circle cx="733.8" cy="270.4" r="6.7"/>
<circle cx="724.9" cy="259.9" r="6.7"/>
<circle cx="728.1" cy="261.7" r="6.7"/>
<circle cx="723.0" cy="255.4" r="6.7"/>
<circle cx="720.4" cy="251.9" r="6.7"/>
<circle cx="722.6" cy="252.0" r="6.7"/>
<circle cx="719.2" cy="248.1" r="6.7"/>
<circle cx="729.1" cy="256.3" r="6.7"/>
<circle cx="722.1" cy="247.8" r="6.7"/>
<circle cx="722.2" cy="246.9" r="6.7"/>
<circle cx="720.0" cy="243.3" r="6.7"/>
<circle cx="733.0" cy="254.2" r="6.7"/>
<circle cx="728.1" cy="247.8" r="6.7"/>
<circle cx="729.0" cy="247.9" r="6.7"/>
<circle cx="724.7" cy="242.1" r="6.7"/>
<circle cx="730.9" cy="247.1" r="6.7"/>
<circle cx="725.2" cy="239.7" r="6.7"/>
<circle cx="722.8" cy="235.8" r="6.7"/>
<circle cx="737.6" cy="248.7" r="6.7"/>
<circle cx="735.0" cy="246.0" r="6.7"/>
<circle cx="732.1" cy="240.5" r="6.7"/>
<circle cx="740.7" cy="247.6" r="6.7"/>
<circle cx="715.9" cy="273.9" r="6.7"/>
<circle cx="719.2" cy="275.8" r="6.7"/>
<circle cx="721.0" cy="278.9" r="6.7"/>
<circle cx="722.3" cy="274.6" r="6.7"/>
<circle cx="722.7" cy="270.8" r="6.7"/>
<circle cx="725.1" cy="272.9" r="6.7"/>
<circle cx="726.0" cy="272.0" r="6.7"/>
<circle cx="735.5" cy="175.1" r="6.7"/>
<circle cx="736.6" cy="195.4" r="6.7"/>
<circle cx="740.3" cy="186.8" r="6.7"/>
<circle cx="742.0" cy="179.2" r="6.7"/>
<circle cx="742.4" cy="190.8" r="6.7"/>
<circle cx="745.3" cy="184.8" r="6.7"/>
<circle cx="747.0" cy="192.1" r="6.7"/>
<circle cx="749.4" cy="187.3" r="6.7"/>
<circle cx="755.6" cy="181.6" r="6.7"/>
<circle cx="771.4" cy="245.0" r="6.7"/>
<circle cx="770.5" cy="287.3" r="6.7"/>
<circle cx="760.5" cy="233.2" r="6.7"/>
<circle cx="755.2" cy="234.4" r="6.7"/>
<circle cx="751.7" cy="237.9" r="6.7"/>
<circle cx="747.0" cy="243.8" r="6.7"/>
<circle cx="754.0" cy="253.8" r="6.7"/>
<circle cx="751.7" cy="255.5" r="6.7"/>
<circle cx="746.4" cy="255.5" r="6.7"/>
<circle cx="754.0" cy="271.4" r="6.7"/>
<circle cx="747.0" cy="263.8" r="6.7"/>
<circle cx="741.1" cy="277.9" r="6.7"/>
<circle cx="740.0" cy="280.2" r="6.7"/>
<circle cx="742.3" cy="275.5" r="6.7"/>
<circle cx="746.5" cy="141.0" r="6.7"/>
<circle cx="743.5" cy="164.1" r="6.7"/>
<circle cx="737.3" cy="175.7" r="6.7"/>
<circle cx="740.8" cy="179.2" r="6.7"/>
<circle cx="752.3" cy="179.2" r="6.7"/>
<circle cx="732.8" cy="187.2" r="6.7"/>
<circle cx="778.1" cy="180.1" r="6.7"/>
<circle cx="779.8" cy="195.2" r="6.7"/>
<circle cx="780.7" cy="199.6" r="6.7"/>
</g>
<g clip-path="url(#c)" fill="none" stroke-width="4.17">
<line x1="100.9" y1="589.7" x2="777.6" y2="250.0" stroke="#f00" stroke-opacity="0.36" stroke-linecap="round"/>
<line x1="44.64" y1="902.23" x2="859.99" y2="91.75" stroke="#00f" stroke-opacity="0.35"/>
</g>
<rect x="67.5" y="110.4" width="775.0" height="770.0" fill="none" stroke="#000" stroke-width="1.11"/>
<g stroke="#000" stroke-width="1.11">
<line x1="83.5" y1="880.4" x2="83.5" y2="885.26"/>
<line x1="67.5" y1="864.5" x2="62.64" y2="864.5"/>
<line x1="179.5" y1="880.4" x2="179.5" y2="885.26"/>
<line x1="67.5" y1="768.5" x2="62.64" y2="768.5"/>
<line x1="275.5" y1="880.4" x2="275.5" y2="885.26"/>
<line x1="67.5" y1="672.5" x2="62.64" y2="672.5"/>
<line x1="371.5" y1="880.4" x2="371.5" y2="885.26"/>
<line x1="67.5" y1="577.5" x2="62.64" y2="577.5"/>
<line x1="467.5" y1="880.4" x2="467.5" y2="885.26"/>
<line x1="67.5" y1="481.5" x2="62.64" y2="481.5"/>
<line x1="563.5" y1="880.4" x2="563.5" y2="885.26"/>
<line x1="67.5" y1="386.5" x2="62.64" y2="386.5"/>
<line x1="660.5" y1="880.4" x2="660.5" y2="885.26"/>
<line x1="67.5" y1="290.5" x2="62.64" y2="290.5"/>
<line x1="756.5" y1="880.4" x2="756.5" y2="885.26"/>
<line x1="67.5" y1="194.5" x2="62.64" y2="194.5"/>
</g>
<text transform="translate(83.5,901.1) scale(1.1,1)" font-size="14.1" text-anchor="middle">150</text>
<text transform="translate(57.1,870.5) scale(1.1,1)" font-size="14.1" text-anchor="end">150</text>
<text transform="translate(179.5,901.1) scale(1.1,1)" font-size="14.1" text-anchor="middle">175</text>
<text transform="translate(57.1,774.5) scale(1.1,1)" font-size="14.1" text-anchor="end">175</text>
<text transform="translate(275.5,901.1) scale(1.1,1)" font-size="14.1" text-anchor="middle">200</text>
<text transform="translate(57.1,678.5) scale(1.1,1)" font-size="14.1" text-anchor="end">200</text>
<text transform="translate(371.5,901.1) scale(1.1,1)" font-size="14.1" text-anchor="middle">225</text>
<text transform="translate(57.1,583.5) scale(1.1,1)" font-size="14.1" text-anchor="end">225</text>
<text transform="translate(467.5,901.1) scale(1.1,1)" font-size="14.1" text-anchor="middle">250</text>
<text transform="translate(57.1,487.5) scale(1.1,1)" font-size="14.1" text-anchor="end">250</text>
<text transform="translate(563.5,901.1) scale(1.1,1)" font-size="14.1" text-anchor="middle">275</text>
<text transform="translate(57.1,392.5) scale(1.1,1)" font-size="14.1" text-anchor="end">275</text>
<text transform="translate(660.5,901.1) scale(1.1,1)" font-size="14.1" text-anchor="middle">300</text>
<text transform="translate(57.1,296.5) scale(1.1,1)" font-size="14.1" text-anchor="end">300</text>
<text transform="translate(756.5,901.1) scale(1.1,1)" font-size="14.1" text-anchor="middle">325</text>
<text transform="translate(57.1,200.5) scale(1.1,1)" font-size="14.1" text-anchor="end">325</text>
<text x="454" y="921.4" font-size="17" text-anchor="middle" textLength="84.7" lengthAdjust="spacingAndGlyphs">Simulated</text>
<text transform="translate(23,496) rotate(-90)" font-size="17" text-anchor="middle" textLength="80" lengthAdjust="spacingAndGlyphs">Observed</text>
<text x="441.8" y="24.6" font-size="19.8" text-anchor="middle" textLength="577" lengthAdjust="spacingAndGlyphs">X-Y plot at is.landsvirkjun.t06 for downward_longwave_flux</text>
<text x="441.7" y="47.5" font-size="19.8" text-anchor="middle" textLength="310.5" lengthAdjust="spacingAndGlyphs">from rav2-15-16 during autumn</text>
</svg></body></html>
